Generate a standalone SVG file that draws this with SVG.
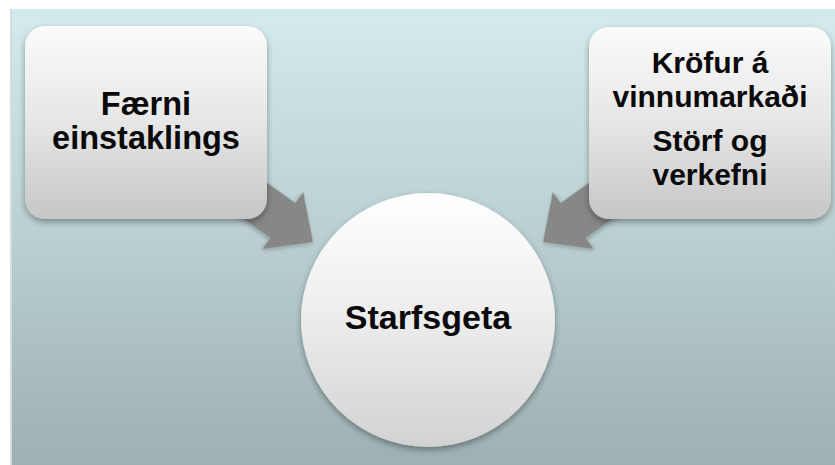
<svg xmlns="http://www.w3.org/2000/svg" width="835" height="465" viewBox="0 0 835 465">
  <defs>
    <linearGradient id="bg" x1="0" y1="0" x2="0" y2="1">
      <stop offset="0" stop-color="#d4ebee"/>
      <stop offset="0.5" stop-color="#b9cfd1"/>
      <stop offset="1" stop-color="#9db0b3"/>
    </linearGradient>
    <linearGradient id="boxg" x1="0" y1="0" x2="0" y2="1">
      <stop offset="0" stop-color="#fbfbfb"/>
      <stop offset="0.5" stop-color="#e6e6e6"/>
      <stop offset="1" stop-color="#c6c6c6"/>
    </linearGradient>
    <linearGradient id="circg" x1="0" y1="0" x2="0" y2="1">
      <stop offset="0" stop-color="#ffffff"/>
      <stop offset="0.5" stop-color="#ececec"/>
      <stop offset="1" stop-color="#d2d2d2"/>
    </linearGradient>
    <filter id="shadow" x="-20%" y="-20%" width="140%" height="140%">
      <feDropShadow dx="0" dy="3" stdDeviation="3" flood-color="#000" flood-opacity="0.35"/>
    </filter>
    <filter id="ashadow" x="-20%" y="-20%" width="140%" height="140%">
      <feDropShadow dx="0" dy="2" stdDeviation="2" flood-color="#000" flood-opacity="0.25"/>
    </filter>
  </defs>
  <style>
    .lbl { font-family: "Liberation Sans", Arial, sans-serif; font-weight: bold; fill: #0a0a0a; text-anchor: middle; }
    .box { fill: url(#boxg); filter: url(#shadow); }
    .arrow { fill: #878787; filter: url(#ashadow); }
  </style>

  <rect x="0" y="0" width="835" height="465" fill="#ffffff"/>
  <rect x="10" y="9" width="3" height="456" fill="#d9dcdd"/>
  <rect x="12" y="9" width="823" height="456" fill="url(#bg)"/>

  <g id="connectors">
    <path class="arrow" transform="translate(313,242) rotate(35.5)" d="M0,0 L-37,-35 L-37,-21.5 L-160,-21.5 L-160,21.5 L-37,21.5 L-37,35 Z"/>
    <path class="arrow" transform="translate(543,242) scale(-1,1) rotate(35.5)" d="M0,0 L-37,-35 L-37,-21.5 L-160,-21.5 L-160,21.5 L-37,21.5 L-37,35 Z"/>
  </g>

  <g id="node-faerni">
    <rect class="box" x="25" y="26" width="242" height="193" rx="20" ry="20"/>
    <text class="lbl" font-size="32.5" x="146" y="115">Færni</text>
    <text class="lbl" font-size="32.5" x="146" y="149">einstaklings</text>
  </g>

  <g id="node-krofur">
    <rect class="box" x="589" y="27" width="242" height="192" rx="20" ry="20"/>
    <text class="lbl" font-size="30" x="710" y="73">Kröfur á</text>
    <text class="lbl" font-size="30" x="710" y="107">vinnumarkaði</text>
    <text class="lbl" font-size="30" x="710" y="151">Störf og</text>
    <text class="lbl" font-size="30" x="710" y="185">verkefni</text>
  </g>

  <g id="node-starfsgeta">
    <circle cx="428" cy="320" r="127" fill="url(#circg)" filter="url(#shadow)"/>
    <text class="lbl" font-size="34" x="428" y="329">Starfsgeta</text>
  </g>
</svg>
